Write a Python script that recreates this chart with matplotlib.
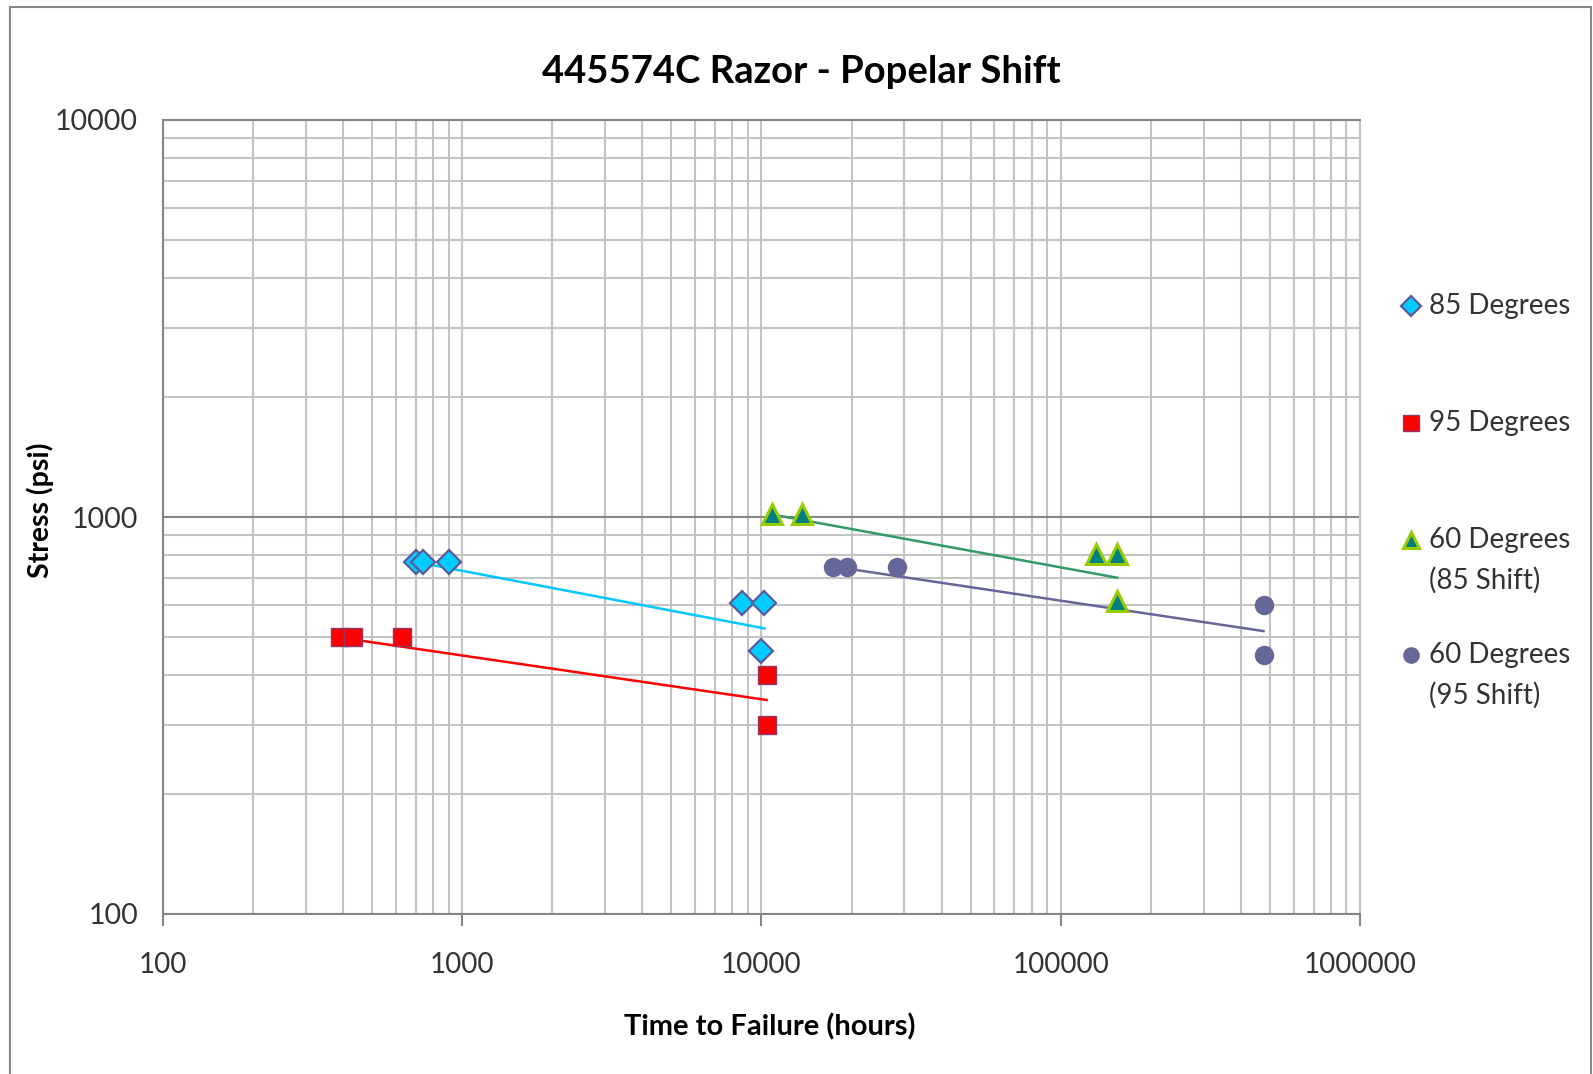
import numpy as np
import matplotlib
matplotlib.use("Agg")
import matplotlib.pyplot as plt
from matplotlib.lines import Line2D
from matplotlib.patches import Rectangle

plt.rcParams['font.family'] = ['Lato', 'DejaVu Sans']

# data
x85 = [703, 738, 902, 8590, 10230, 10000]
y85 = [770, 770, 770, 608, 608, 460]
x95 = [389, 431, 631, 10400, 10400]
y95 = [500, 500, 500, 400, 300]
x60a = [10840, 13650, 130700, 154500, 154500]
y60a = [1015, 1015, 805, 805, 614]
x60b = [17400, 19300, 28400, 476000, 476000]
y60b = [750, 750, 750, 600, 450]

# trendline end points (power fits as drawn)
t85_x, t85_y = [703, 10230], [770, 524]
t95_x, t95_y = [389, 10400], [497, 346]
t60a_x, t60a_y = [10840, 154500], [1015, 703]
t60b_x, t60b_y = [17400, 476000], [750, 516]

labels = ["85 Degrees", "95 Degrees", "60 Degrees\n(85 Shift)", "60 Degrees\n(95 Shift)"]

W, H = 1593, 1074
fig = plt.figure(figsize=(W/100, H/100), dpi=100)
ax = fig.add_axes([163/W, 1 - 914/H, (1360-163)/W, (914-120)/H])

light = '#c4c4c4'
dark = '#868686'

ax.set_xscale('log')
ax.set_yscale('log')
ax.set_xlim(100, 1e6)
ax.set_ylim(100, 1e4)

# grid
ax.grid(True, which='minor', axis='both', color=light, lw=1.5)
ax.grid(True, which='major', axis='x', color=light, lw=1.5)
ax.grid(True, which='major', axis='y', color=dark, lw=1.5)
ax.set_axisbelow(True)

# trend lines
ax.plot(t85_x, t85_y, color='#00c8ff', lw=1.8)
ax.plot(t95_x, t95_y, color='#ff0000', lw=1.8)
ax.plot(t60a_x, t60a_y, color='#339966', lw=1.8)
ax.plot(t60b_x, t60b_y, color='#666699', lw=1.8)

# markers
st85 = dict(marker='D', ms=12, mfc='#00ccff', mec='#5b5b9a', mew=1.6, ls='none')
st95 = dict(marker='s', ms=13, mfc='#ff0000', mec='#8b3a6a', mew=1.0, ls='none')
st60a = dict(marker='^', ms=14, mfc='#00807f', mec='#99cc00', mew=2.2, ls='none')
st60b = dict(marker='o', ms=14, mfc='#666699', mec='#666699', mew=0, ls='none')
ax.plot(x85, y85, **st85)
ax.plot(x95, y95, **st95)
ax.plot(x60a, y60a, **st60a)
ax.plot(x60b, y60b, **st60b)

ax.set_xticks([100, 1000, 10000, 100000, 1000000])
ax.set_xticklabels(['100', '1000', '10000', '100000', '1000000'])
ax.set_yticks([100, 1000, 10000])
ax.set_yticklabels(['100', '1000', '10000'])
ax.tick_params(axis='x', which='major', length=8.6, width=1.5, color=dark,
               pad=19, labelsize=20, labelcolor='#333333')
ax.tick_params(axis='y', which='major', length=0, pad=18, labelsize=20.5,
               labelcolor='#333333')
ax.tick_params(which='minor', length=0)

for s in ['left', 'bottom', 'top']:
    ax.spines[s].set_color(dark)
    ax.spines[s].set_linewidth(1.5)
ax.spines['right'].set_color(light)
ax.spines['right'].set_linewidth(1.5)

fig.text(801/W, 1 - 72/H, "445574C Razor - Popelar Shift", ha='center', va='center',
         fontsize=27.5, fontweight='bold')
fig.text(770/W, 1 - 1027/H, "Time to Failure (hours)", ha='center', va='center',
         fontsize=21, fontweight='bold')
fig.text(40/W, 1 - 510/H, "Stress (psi)", ha='center', va='center',
         rotation=90, fontsize=20.5, fontweight='bold')

# legend drawn by hand
leg_y = [306, 423, 540, 655]
styles = [st85, st95, st60a, st60b]
small = [10, 11, 12, 12]
for yy, lab, st, ms in zip(leg_y, labels, styles, small):
    s = dict(st)
    s['ms'] = ms
    fig.add_artist(Line2D([1411/W], [1 - yy/H], transform=fig.transFigure, **s))
    fig.text(1429/W, 1 - (yy - 13)/H, lab, ha='left', va='top', fontsize=20,
             color='#333333', linespacing=1.64)

fig.add_artist(Rectangle((10/W, -0.01), (1591-10)/W, 1.01 - 7/H,
                         transform=fig.transFigure, fill=False, ec=dark, lw=1.5))

fig.savefig('out.png', dpi=100)
